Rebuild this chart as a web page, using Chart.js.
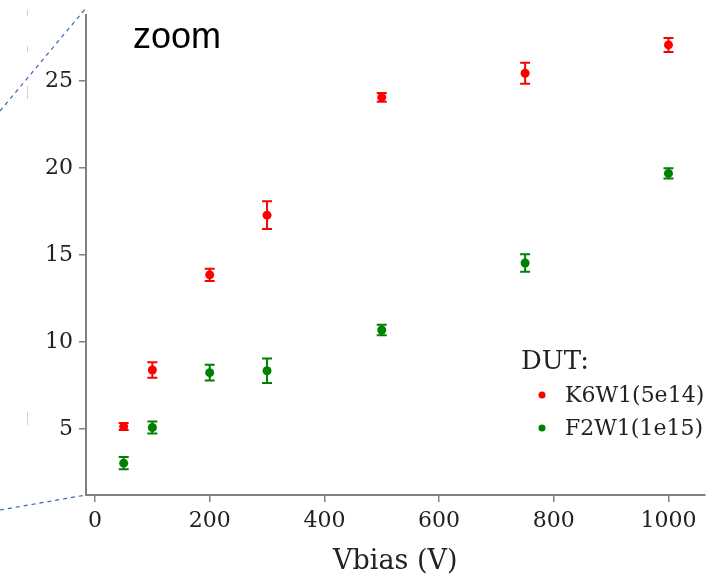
<!DOCTYPE html>
<html>
<head>
<meta charset="utf-8">
<script src="https://cdn.jsdelivr.net/npm/chart.js@4"></script>
<style>
  html, body { margin: 0; padding: 0; background: #fff; overflow: hidden; }
  body { width: 706px; height: 579px; }
  canvas { display: block; }
</style>
</head>
<body>
<canvas id="vbiasChart" width="709" height="579"></canvas>
<script>
// data
const vbias = [50, 100, 200, 300, 500, 750, 1000];
const k6w1 = [5.15, 8.4, 13.87, 17.3, 24.07, 25.45, 27.08];
const k6w1Err = [0.2, 0.45, 0.35, 0.8, 0.25, 0.6, 0.4];
const f2w1 = [3.05, 5.1, 8.25, 8.36, 10.7, 14.55, 19.7];
const f2w1Err = [0.35, 0.35, 0.45, 0.7, 0.3, 0.5, 0.3];
const xTicks = [0, 200, 400, 600, 800, 1000];
const yTicks = [5, 10, 15, 20, 25];

const serif = "'DejaVu Serif', serif";

function toPoints(ys, errs) {
  return vbias.map((x, i) => ({ x: x, y: ys[i], err: errs[i] }));
}

// error bars, legend, "zoom" label and the dashed zoom lines
const overlay = {
  id: 'overlay',
  afterDatasetsDraw(chart) {
    const ctx = chart.ctx;
    const xs = chart.scales.x, ys = chart.scales.y;
    ctx.save();
    chart.data.datasets.forEach(ds => {
      ctx.strokeStyle = ds.borderColor;
      ctx.lineWidth = 2;
      ds.data.forEach(p => {
        const px = xs.getPixelForValue(p.x);
        const top = ys.getPixelForValue(p.y + p.err);
        const bot = ys.getPixelForValue(p.y - p.err);
        ctx.beginPath();
        ctx.moveTo(px, top); ctx.lineTo(px, bot);
        ctx.moveTo(px - 5, top); ctx.lineTo(px + 5, top);
        ctx.moveTo(px - 5, bot); ctx.lineTo(px + 5, bot);
        ctx.stroke();
      });
    });
    ctx.restore();
  },
  afterDraw(chart) {
    const ctx = chart.ctx;
    const area = chart.chartArea;
    ctx.save();

    // dashed lines from the zoom box
    ctx.strokeStyle = '#3a66b0';
    ctx.lineWidth = 1.2;
    ctx.setLineDash([4, 4]);
    ctx.beginPath();
    ctx.moveTo(0, 111); ctx.lineTo(area.left, 8);
    ctx.moveTo(0, 510); ctx.lineTo(area.left, area.bottom);
    ctx.stroke();
    ctx.setLineDash([]);

    // faint leftovers of the neighbouring panel
    ctx.strokeStyle = '#d0d0d0';
    ctx.lineWidth = 1;
    [[10, 16], [46, 52], [86, 99], [412, 425]].forEach(s => {
      ctx.beginPath();
      ctx.moveTo(27.5, s[0]); ctx.lineTo(27.5, s[1]);
      ctx.stroke();
    });

    // "zoom" label
    ctx.fillStyle = '#000';
    ctx.font = "36px 'Liberation Sans', Arial, sans-serif";
    ctx.textBaseline = 'middle';
    ctx.textAlign = 'left';
    ctx.fillText('zoom', 133, 38);

    // legend
    ctx.fillStyle = '#222';
    ctx.font = '26px ' + serif;
    ctx.fillText('DUT:', 521, 362);
    ctx.font = '22px ' + serif;
    chart.data.datasets.forEach((ds, i) => {
      const y = 396 + i * 33;
      ctx.fillStyle = ds.backgroundColor;
      ctx.beginPath();
      ctx.arc(542, y - 1, 3.5, 0, Math.PI * 2);
      ctx.fill();
      ctx.fillStyle = '#222';
      ctx.fillText(ds.label, 565, y);
    });
    ctx.restore();
  }
};

new Chart(document.getElementById('vbiasChart'), {
  type: 'scatter',
  data: {
    datasets: [{
      label: 'K6W1(5e14)',
      data: toPoints(k6w1, k6w1Err),
      backgroundColor: '#ff0000',
      borderColor: '#ff0000',
      pointRadius: 4.5,
      pointBorderWidth: 0
    }, {
      label: 'F2W1(1e15)',
      data: toPoints(f2w1, f2w1Err),
      backgroundColor: '#008000',
      borderColor: '#008000',
      pointRadius: 4.5,
      pointBorderWidth: 0
    }]
  },
  options: {
    responsive: false,
    animation: false,
    layout: { padding: { top: 15, right: 0, left: 0, bottom: 0 } },
    plugins: {
      legend: { display: false },
      tooltip: { enabled: false }
    },
    scales: {
      x: {
        min: -15.7,
        max: 1062.8,
        afterFit(scale) { scale.height = 84; scale.paddingRight = 0; },
        afterBuildTicks(scale) { scale.ticks = xTicks.map(v => ({ value: v })); },
        border: { color: '#808080', width: 2 },
        grid: { drawOnChartArea: false, drawTicks: true, tickLength: 7, color: '#808080', lineWidth: 1.5 },
        ticks: {
          color: '#222',
          padding: 6,
          font: { family: serif, size: 22 },
          callback: v => String(v)
        },
        title: {
          display: true,
          text: 'Vbias (V)',
          color: '#222',
          padding: { top: 0, bottom: 1 },
          font: { family: serif, size: 27 }
        }
      },
      y: {
        min: 1.22,
        max: 28.8,
        afterFit(scale) { scale.width = 86; scale.paddingTop = 0; scale.paddingBottom = 0; },
        afterBuildTicks(scale) { scale.ticks = yTicks.map(v => ({ value: v })); },
        border: { color: '#808080', width: 2 },
        grid: { drawOnChartArea: false, drawTicks: true, tickLength: 7, color: '#808080', lineWidth: 1.5 },
        ticks: { color: '#222', padding: 6, font: { family: serif, size: 22 } }
      }
    }
  },
  plugins: [overlay]
});
</script>
</body>
</html>
